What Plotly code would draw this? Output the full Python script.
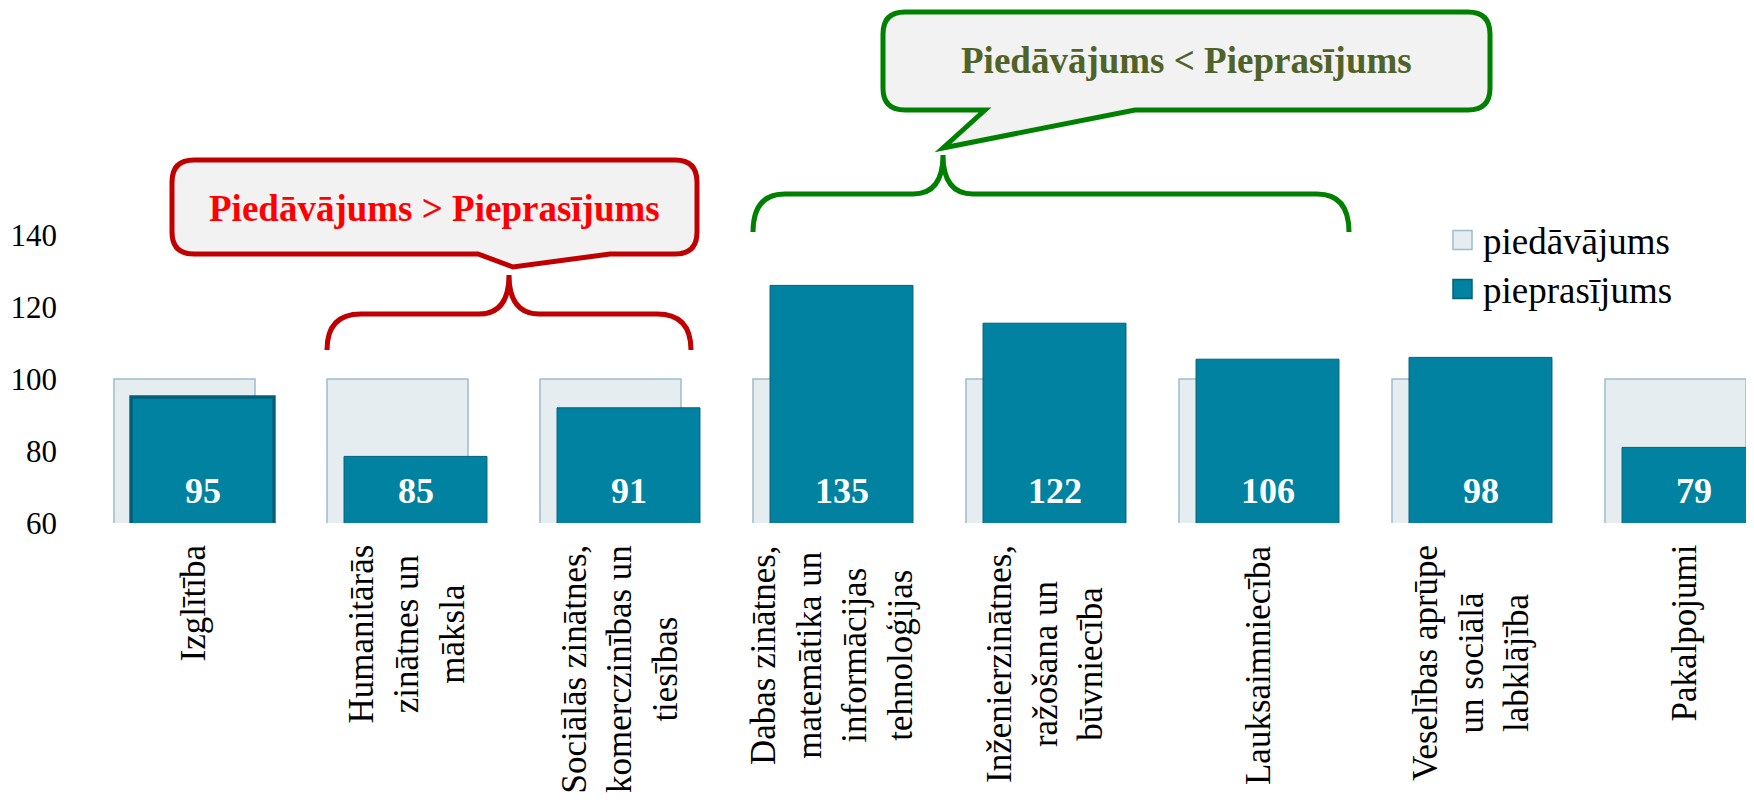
import plotly.graph_objects as go

# data
categories = [
    "Izglītība",
    "Humanitārās<br>zinātnes un<br>māksla",
    "Sociālās zinātnes,<br>komerczinības un<br>tiesības",
    "Dabas zinātnes,<br>matemātika un<br>informācijas<br>tehnoloģijas",
    "Inženierzinātnes,<br>ražošana un<br>būvniecība",
    "Lauksaimniecība",
    "Veselības aprūpe<br>un sociālā<br>labklājība",
    "Pakalpojumi",
]
supply = [100, 100, 100, 100, 100, 100, 100, 100]
demand = [95, 78.5, 92, 126, 115.5, 105.5, 106, 81]
demand_labels = [95, 85, 91, 135, 122, 106, 98, 79]
y_ticks = [60, 80, 100, 120, 140]
legend_names = ["piedāvājums", "pieprasījums"]
callout_texts = ["Piedāvājums > Pieprasījums", "Piedāvājums < Pieprasījums"]

# the page body has an 8px margin, so the figure is drawn 8px in
PAGE_OFF = 8
W, H = 1754 - PAGE_OFF, 809 - PAGE_OFF
L, R, T, B = 60, W, 0, 515          # plot area in figure pixels
X0, X1 = (68 - 184.5) / 213, (1754 - 184.5) / 213
Y0, Y1 = 60, 60 + (B - T) / 3.6

SERIF = "Liberation Serif, Times New Roman, serif"
LIGHT, LIGHT_LINE = "#E5EDF1", "#9FBBCB"
TEAL, TEAL_LINE = "#0082A0", "#00607A"
BACK_W, BACK_OFF = 0.662, -0.331
FRONT_W, FRONT_OFF = 0.671, -0.251


# helpers take page pixel positions and give data coordinates
def dx(p):
    return X0 + (p - PAGE_OFF - L) / (R - L) * (X1 - X0)


def dy(p):
    return Y1 - (p - PAGE_OFF - T) / (B - T) * (Y1 - Y0)


def pt(x, y):
    return f"{dx(x):.4f},{dy(y):.4f}"


def callout_path(x0, y0, x1, y1, r, pl, tip, pr):
    return (
        f"M{pt(x0 + r, y0)} L{pt(x1 - r, y0)} Q{pt(x1, y0)} {pt(x1, y0 + r)} "
        f"L{pt(x1, y1 - r)} Q{pt(x1, y1)} {pt(x1 - r, y1)} "
        f"L{pt(pr, y1)} L{pt(tip[0], tip[1])} L{pt(pl, y1)} "
        f"L{pt(x0 + r, y1)} Q{pt(x0, y1)} {pt(x0, y1 - r)} "
        f"L{pt(x0, y0 + r)} Q{pt(x0, y0)} {pt(x0 + r, y0)} Z"
    )


def brace_path(xl, xr, xc, y_top, y_mid, y_end, r, rc):
    return (
        f"M{pt(xl, y_end)} Q{pt(xl, y_mid)} {pt(xl + r, y_mid)} "
        f"L{pt(xc - rc, y_mid)} Q{pt(xc, y_mid)} {pt(xc, y_top)} "
        f"Q{pt(xc, y_mid)} {pt(xc + rc, y_mid)} "
        f"L{pt(xr - r, y_mid)} Q{pt(xr, y_mid)} {pt(xr, y_end)}"
    )


x_idx = list(range(len(categories)))

fig = go.Figure()
fig.add_trace(go.Bar(
    x=x_idx, y=supply, width=BACK_W, offset=BACK_OFF,
    marker=dict(color=LIGHT, line=dict(color=LIGHT_LINE, width=1.5)),
    name=legend_names[0], showlegend=False,
))
fig.add_trace(go.Bar(
    x=x_idx, y=demand, width=FRONT_W, offset=FRONT_OFF,
    marker=dict(color=TEAL,
                line=dict(color=[TEAL_LINE] * len(demand),
                          width=[3.5] + [1] * (len(demand) - 1))),
    name=legend_names[1], showlegend=False,
))

annotations = []
# value labels inside the front bars
for i, v in enumerate(demand_labels):
    annotations.append(dict(
        x=i + FRONT_OFF + FRONT_W / 2, y=Y0, yshift=32, text=f"<b>{v}</b>",
        showarrow=False, xanchor="center", yanchor="middle",
        font=dict(family=SERIF, size=36, color="white"),
    ))

# category labels, rotated
for i, c in enumerate(categories):
    annotations.append(dict(
        x=i + 0.04, xref="x", y=0, yref="paper", yshift=-20, text=c,
        textangle=-90, align="center", showarrow=False,
        xanchor="center", yanchor="top",
        font=dict(family=SERIF, size=35, color="black"),
    ))

# legend
legend_items = [(legend_names[0], LIGHT, LIGHT_LINE, 240),
                (legend_names[1], TEAL, TEAL_LINE, 289)]
shapes = []
for name, fill, line, yc in legend_items:
    shapes.append(dict(
        type="rect", xref="x", yref="y",
        x0=dx(1453), x1=dx(1472), y0=dy(yc - 9.5), y1=dy(yc + 9.5),
        fillcolor=fill, line=dict(color=line, width=1.5),
    ))
    annotations.append(dict(
        x=dx(1481), y=dy(yc + 1), text=name, showarrow=False,
        xanchor="left", yanchor="middle",
        font=dict(family=SERIF, size=37, color="black"),
    ))

# callouts and braces
shapes.append(dict(
    type="path", xref="x", yref="y", fillcolor="#F2F2F2",
    line=dict(color="#C00000", width=5),
    path=callout_path(172, 160, 697, 254, 22, 478, (513, 267), 610),
))
shapes.append(dict(
    type="path", xref="x", yref="y",
    line=dict(color="#C00000", width=5),
    path=brace_path(327, 691, 509, 275, 314, 350, 34, 30),
))
annotations.append(dict(
    x=dx(434.5), y=dy(208), text=f"<b>{callout_texts[0]}</b>", showarrow=False,
    xanchor="center", yanchor="middle",
    font=dict(family=SERIF, size=37, color="#FF0000"),
))

shapes.append(dict(
    type="path", xref="x", yref="y", fillcolor="#F2F2F2",
    line=dict(color="#008000", width=5),
    path=callout_path(883, 12, 1490, 110, 22, 985, (943, 148), 1135),
))
shapes.append(dict(
    type="path", xref="x", yref="y",
    line=dict(color="#008000", width=5),
    path=brace_path(753, 1349, 943, 155, 194, 232, 32, 30),
))
annotations.append(dict(
    x=dx(1186.5), y=dy(60), text=f"<b>{callout_texts[1]}</b>", showarrow=False,
    xanchor="center", yanchor="middle",
    font=dict(family=SERIF, size=37, color="#4F6228"),
))

fig.update_layout(
    width=W, height=H,
    margin=dict(l=L, r=W - R, t=T, b=H - B),
    barmode="overlay",
    plot_bgcolor="white", paper_bgcolor="white",
    showlegend=False,
    shapes=shapes,
    annotations=annotations,
    xaxis=dict(range=[X0, X1], visible=False),
    yaxis=dict(
        range=[Y0, Y1], tickvals=y_ticks, ticks="", showgrid=False,
        zeroline=False, showline=False, ticklabelstandoff=10,
        tickfont=dict(family=SERIF, size=31, color="black"),
    ),
)

fig.write_html("out.html")
